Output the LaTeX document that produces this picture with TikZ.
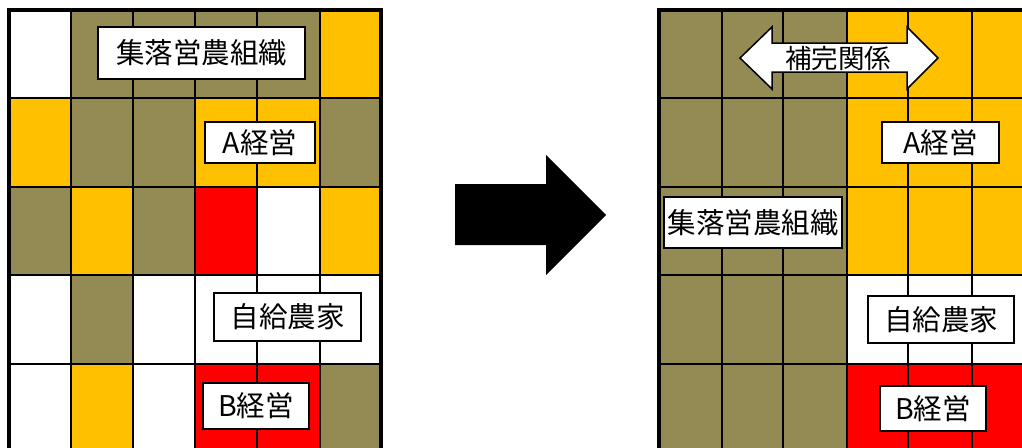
\documentclass[tikz,border=0pt]{standalone}
\usepackage{fontspec}
\setmainfont{Noto Sans CJK JP}
\definecolor{oliveC}{HTML}{948A54}
\definecolor{yel}{HTML}{FFC000}
\definecolor{redC}{HTML}{FF0000}
\begin{document}
\begin{tikzpicture}[x=1pt,y=-1pt,
  lab/.style={draw=black,line width=1.5pt,fill=white,inner sep=0pt,font=\fontsize{28.5}{28.5}\selectfont},
  gridline/.style={line width=2.8pt,black},
  outerline/.style={line width=3.2pt,black}]
\useasboundingbox (0,0) rectangle (1022,447);
\clip (0,0) rectangle (1022,447);
\fill[white] (0,0) rectangle (1022,447);
% left grid
\def\xl{{9,71,133,195,257,320,381}}
\def\yr{{10,98,187,275,364,452}}
\foreach \row [count=\r from 0] in {
  {white,oliveC,oliveC,oliveC,oliveC,yel},
  {yel,oliveC,oliveC,yel,yel,oliveC},
  {oliveC,yel,oliveC,redC,white,yel},
  {white,oliveC,white,white,white,white},
  {white,yel,white,redC,redC,oliveC}} {
  \foreach \col [count=\c from 0] in \row {
    \pgfmathsetmacro\xa{\xl[\c]}
    \pgfmathsetmacro\xb{\xl[\c+1]}
    \pgfmathsetmacro\ya{\yr[\r]}
    \pgfmathsetmacro\yb{\yr[\r+1]}
    \fill[\col] (\xa,\ya) rectangle (\xb,\yb);
  }
}
\foreach \x in {71,133,195,257,320} \draw[gridline] (\x,10) -- (\x,452);
\foreach \y in {98,187,275,364} \draw[gridline] (9,\y) -- (381,\y);
\draw[outerline] (9,452) -- (9,10) -- (381,10) -- (381,452);
% right grid
\def\xr{{659,722,783,847,908,972,1034,1096}}
\foreach \row [count=\r from 0] in {
  {oliveC,oliveC,oliveC,yel,yel,yel,yel},
  {oliveC,oliveC,oliveC,yel,yel,yel,yel},
  {oliveC,oliveC,oliveC,yel,yel,yel,yel},
  {oliveC,oliveC,oliveC,white,white,white,white},
  {oliveC,oliveC,oliveC,redC,redC,redC,redC}} {
  \foreach \col [count=\c from 0] in \row {
    \pgfmathsetmacro\xa{\xr[\c]}
    \pgfmathsetmacro\xb{\xr[\c+1]}
    \pgfmathsetmacro\ya{\yr[\r]}
    \pgfmathsetmacro\yb{\yr[\r+1]}
    \fill[\col] (\xa,\ya) rectangle (\xb,\yb);
  }
}
\foreach \x in {722,783,847,908,972,1034} \draw[gridline] (\x,10) -- (\x,452);
\foreach \y in {98,187,275,364} \draw[gridline] (659,\y) -- (1096,\y);
\draw[outerline] (659,452) -- (659,10) -- (1096,10);
% big arrow
\fill[black] (455,184) -- (546,184) -- (546,155) -- (606,215) -- (546,275) -- (546,245) -- (455,245) -- cycle;
% left labels
\node[lab,minimum width=207pt,minimum height=52pt] (l1) at (201.5,53) {集落営農組織};
\node[lab,minimum width=110pt,minimum height=41pt] (l2) at (260,142.5) {A経営};
\node[lab,minimum width=147pt,minimum height=48pt] (l3) at (287.5,317) {自給農家};
\node[lab,minimum width=106pt,minimum height=46pt] (l4) at (256,406) {B経営};
% right labels
\draw[fill=white,draw=black,line width=1.5pt] (740,58) -- (772,27) -- (772,43) -- (907,43) -- (907,27) -- (938,58) -- (907,89) -- (907,72) -- (772,72) -- (772,89) -- cycle;
\node[font=\fontsize{26.5}{26.5}\selectfont,inner sep=0pt] (r0) at (838,58) {補完関係};
\node[lab,minimum width=117pt,minimum height=41pt] (r1) at (940.5,142.5) {A経営};
\node[lab,minimum width=178pt,minimum height=51pt] (r2) at (753,222.5) {集落営農組織};
\node[lab,minimum width=146pt,minimum height=47pt] (r3) at (941,319.5) {自給農家};
\node[lab,minimum width=106pt,minimum height=45pt] (r4) at (933,408.5) {B経営};
\end{tikzpicture}
\end{document}
